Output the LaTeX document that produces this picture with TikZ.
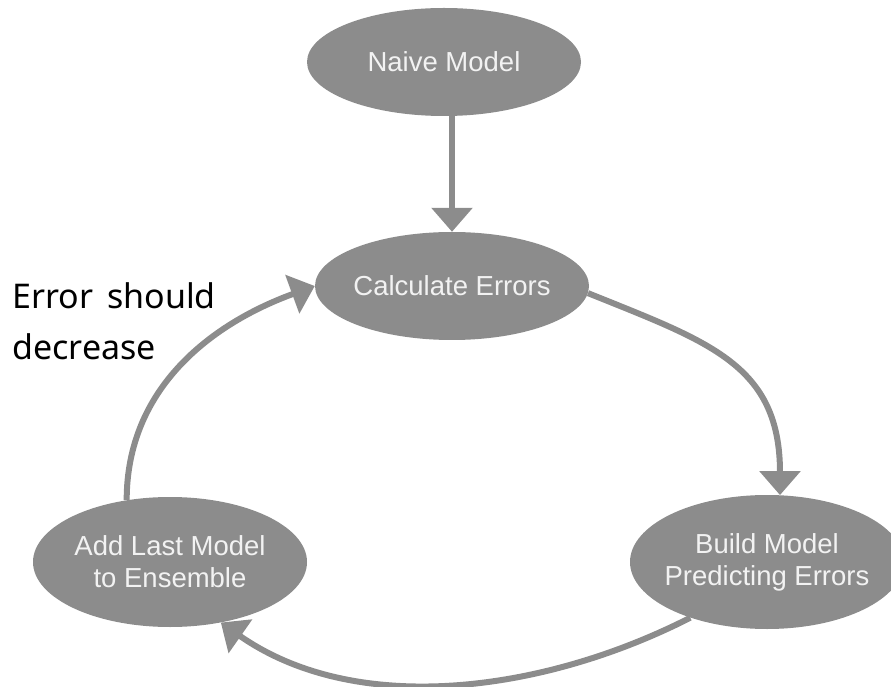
\documentclass[tikz,border=0pt]{standalone}
\usepackage{fontspec}
\setmainfont{Liberation Sans}
\newfontfamily\notefont[WordSpace=1.6]{Noto Sans}
\usepackage{tikz}
\usetikzlibrary{shapes.geometric,arrows.meta}
\usepackage{xcolor}
\definecolor{loopgray}{HTML}{8C8C8C}
\definecolor{loopwhite}{HTML}{F2F2F2}

\begin{document}
\begin{tikzpicture}[x=1pt,y=1pt,
  stage/.style={ellipse,fill=loopgray,text=loopwhite,inner xsep=-8pt,inner ysep=0pt,
                minimum width=274pt,minimum height=108pt,align=center,
                font=\fontsize{27.5}{32}\selectfont},
  arrow/.style={-{Triangle[width=40pt,length=24pt]},draw=loopgray,line width=6pt}
]
\useasboundingbox (0,0) rectangle (891,686);

\node[stage]                     (naive)    at (444,624) {Naive Model};
\node[stage]                     (calc)     at (452,400) {Calculate Errors};
\node[stage,minimum height=130pt] (ensemble) at (170,124) {Add Last Model\\to Ensemble};
\node[stage,minimum height=134pt] (build)    at (767,124) {Build Model\\Predicting Errors};

% base of a two-line node sits on its last line
\node[anchor=base west,align=left,inner sep=0pt,
      font=\notefont\fontsize{34}{51}\selectfont] (note) at (12,326) {Error should\\decrease};

\draw[arrow] (calc.north |- naive.south) -- (calc.north);
\draw[arrow] (calc.-3) to[out=-22,in=90,looseness=1.2] (build.79);
\draw[arrow] (build.216) to[out=207,in=-35,looseness=0.9] (ensemble.-50);
\draw[arrow] (ensemble.125) to[out=90,in=200] (calc.west);
\end{tikzpicture}
\end{document}
